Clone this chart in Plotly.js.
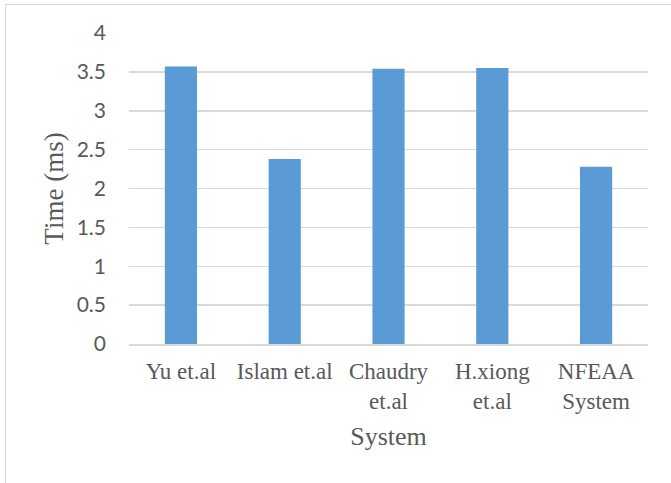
<!DOCTYPE html>
<html>
<head>
<meta charset="utf-8">
<script src="https://cdn.plot.ly/plotly-3.0.1.min.js"></script>
<style>
html,body{margin:0;padding:0;background:#fff;}
#chart{width:671px;height:483px;}
#frame{position:absolute;left:5px;top:4px;width:700px;height:500px;border:1.5px solid #d9d9d9;pointer-events:none;box-sizing:border-box;}
</style>
</head>
<body>
<div id="chart"></div>
<div id="frame"></div>
<script>
const categories = ["Yu et.al", "Islam et.al", "Chaudry<br>et.al", "H.xiong<br>et.al", "NFEAA<br>System"];
const timeMs = [3.57, 2.38, 3.54, 3.55, 2.28];
const yTicks = [0, 0.5, 1, 1.5, 2, 2.5, 3, 3.5, 4];

const trace = {
  type: 'bar',
  x: categories,
  y: timeMs,
  marker: {color: '#5b9bd5'},
  hoverinfo: 'x+y'
};

const layout = {
  width: 671,
  height: 483,
  margin: {l: 129, r: 23, t: 33, b: 139},
  paper_bgcolor: '#ffffff',
  plot_bgcolor: '#ffffff',
  bargap: 0.69,
  showlegend: false,
  xaxis: {
    type: 'category',
    showgrid: false,
    showline: true,
    linecolor: '#d9d9d9',
    linewidth: 1.5,
    ticks: '',
    ticklabelstandoff: 6,
    tickfont: {family: 'Liberation Serif, Times New Roman, serif', size: 23, color: '#595959'},
    title: {text: 'System', font: {family: 'Liberation Serif, Times New Roman, serif', size: 26, color: '#595959'}, standoff: 14},
    automargin: false
  },
  yaxis: {
    range: [0, 4],
    tickvals: yTicks,
    ticktext: yTicks.map(String),
    showgrid: true,
    gridcolor: '#d9d9d9',
    gridwidth: 1.5,
    zeroline: false,
    showline: false,
    ticks: '',
    ticklabelstandoff: 22,
    tickfont: {family: 'Lato, Carlito, Calibri, sans-serif', size: 21, color: '#595959'},
    title: {text: 'Time (ms)', font: {family: 'Liberation Serif, Times New Roman, serif', size: 27, color: '#595959'}, standoff: 5},
    automargin: false
  }
};

Plotly.newPlot('chart', [trace], layout, {displayModeBar: false, staticPlot: true});
</script>
</body>
</html>
